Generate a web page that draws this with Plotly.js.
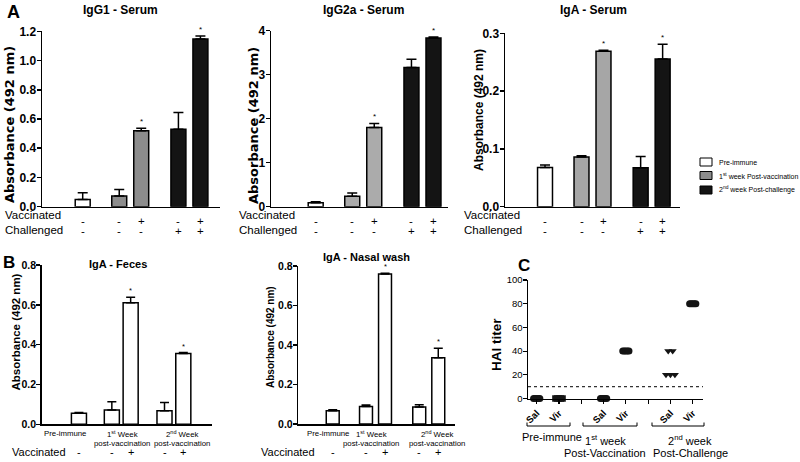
<!DOCTYPE html>
<html><head><meta charset="utf-8">
<script src="https://cdn.plot.ly/plotly-3.0.1.min.js"></script>
<style>html,body{margin:0;padding:0;background:#fff}#chart{width:800px;height:462px}</style>
</head><body><div id="chart"></div><script>
// ---------------- data ----------------
const groupsA = ['Pre-immune', '1st week Post-vaccination', '1st week Post-vaccination', '2nd week Post-challenge', '2nd week Post-challenge'];
const vaccinatedA = ['-', '-', '+', '-', '+'];
const challengedA = ['-', '-', '-', '+', '+'];
const igg1Mean = [0.050, 0.073, 0.519, 0.530, 1.147];
const igg1Sem = [0.046, 0.044, 0.018, 0.115, 0.021];
const igg2aMean = [0.09, 0.24, 1.80, 3.16, 3.83];
const igg2aSem = [0.02, 0.07, 0.09, 0.19, 0.02];
const igaSerumMean = [0.068, 0.086, 0.269, 0.0675, 0.2555];
const igaSerumSem = [0.004, 0.002, 0.0015, 0.0195, 0.0255];
const starA = [false, false, true, false, true];

const vaccinatedB = ['-', '-', '+', '-', '+'];
const fecesMean = [0.055, 0.072, 0.610, 0.068, 0.355];
const fecesSem = [0.004, 0.041, 0.028, 0.042, 0.005];
const nasalMean = [0.0675, 0.088, 0.759, 0.086, 0.336];
const nasalSem = [0.005, 0.008, 0.004, 0.012, 0.047];
const starB = [false, false, true, false, true];
const groupLine1B = ['Pre-immune', '1<sup>st</sup> Week', '2<sup>nd</sup> Week'];
const groupLine2B = ['', 'post-vaccination', 'post-vaccination'];

const haiTickVals = [0, 1, 2, 3, 4, 5, 6, 7];
const haiTickText = ['Sal', 'Vir', ' ', 'Sal', 'Vir', ' ', 'Sal', 'Vir'];
const haiSalPre = [0, 0, 0, 0, 0];
const haiVirPre = [0, 0, 0, 0, 0];
const haiSalVac = [0, 0, 0, 0, 0];
const haiVirVac = [40, 40, 40, 40, 40];
const haiSalChal = [40, 40, 20, 20, 20];
const haiVirChal = [80, 80, 80, 80, 80];
const haiThreshold = 10;
const haiGroupLine1 = ['Pre-immune', '1<sup>st</sup> week', '2<sup>nd</sup> week'];
const haiGroupLine2 = ['', 'Post-Vaccination', 'Post-Challenge'];

const legendLabels = ['Pre-immune', '1<sup>st</sup> week Post-vaccination', '2<sup>nd</sup> week Post-challenge'];

// ---------------- layout helpers ----------------
const W = 800, H = 462;
const px = x => x / W;
const py = y => 1 - y / H;
const FONT = 'Liberation Sans, Arial, Helvetica, sans-serif';
const BLACK = '#141414';

const slotsA = [0, 1.66, 2.66, 4.35, 5.35];
const slotsB = [0, 1.75, 2.75, 4.55, 5.55];
const slotsC = [0, 1, 3, 4, 6, 7];

const traces = [];
const annotations = [];
const shapes = [];
const layout = {
  width: W, height: H, margin: {l: 0, r: 0, t: 0, b: 0},
  paper_bgcolor: '#fff', plot_bgcolor: 'rgba(0,0,0,0)', showlegend: false,
  font: {family: FONT, color: '#000'}
};

function xAxis(dom, range) {
  return {domain: [px(dom[0]), px(dom[1])], range: range, showline: true, linecolor: '#000', linewidth: 1.5,
    showticklabels: false, ticks: '', showgrid: false, zeroline: false, fixedrange: true};
}
function yAxis(dom, range, tickvals, fmt, fsize, bold) {
  return {domain: [py(dom[0]), py(dom[1])], range: range, tickvals: tickvals, tickformat: fmt,
    ticks: 'outside', ticklen: 4, tickwidth: 1.5, tickcolor: '#000', showline: true, linecolor: '#000', linewidth: 1.5,
    showgrid: false, zeroline: false, fixedrange: true, ticklabelstandoff: -2,
    tickfont: {family: FONT, size: fsize, color: '#000', weight: bold ? 'bold' : 'normal'}};
}
function text(x, y, t, opts) {
  const o = Object.assign({size: 12, weight: 'normal', family: FONT, xanchor: 'center', yanchor: 'middle', angle: 0, xref: 'paper', yref: 'paper'}, opts || {});
  annotations.push({x: x, y: y, xref: o.xref, yref: o.yref, text: t, showarrow: false, xanchor: o.xanchor, yanchor: o.yanchor,
    textangle: o.angle, font: {family: o.family, size: o.size, weight: o.weight, color: '#000'}});
}

// ---------------- panel A ----------------
const chartsA = [
  {mean: igg1Mean, sem: igg1Sem, n: '', gray: '#8c8c8c', dom: [42, 220], range: [-1.85, 6.24], ydom: [206.7, 31.3],
   yr: [0, 1.2], tv: [0, 0.2, 0.4, 0.6, 0.8, 1.0, 1.2], fmt: '.1f', title: 'IgG1 - Serum', tx: 120,
   yt: {x: 9, y: 125, size: 13, family: 'DejaVu Sans, Liberation Sans, sans-serif'}, lab: 3},
  {mean: igg2aMean, sem: igg2aSem, n: '2', gray: '#ababab', dom: [271, 448], range: [-2.03, 6.01], ydom: [206.7, 30.5],
   yr: [0, 4], tv: [0, 1, 2, 3, 4], fmt: 'd', title: 'IgG2a - Serum', tx: 363,
   yt: {x: 253, y: 125, size: 13, family: 'DejaVu Sans, Liberation Sans, sans-serif'}, lab: 237},
  {mean: igaSerumMean, sem: igaSerumSem, n: '3', gray: '#a6a6a6', dom: [505, 680], range: [-1.82, 6.14], ydom: [206.7, 33.3],
   yr: [0, 0.3], tv: [0, 0.1, 0.2, 0.3], fmt: '.1f', title: 'IgA - Serum', tx: 593,
   yt: {x: 479, y: 110, size: 12, family: FONT}, lab: 462}
];

chartsA.forEach(c => {
  const xa = 'x' + c.n, ya = 'y' + c.n;
  traces.push({type: 'bar', x: slotsA, y: c.mean, width: 0.68, xaxis: xa, yaxis: ya, name: '',
    text: groupsA, textposition: 'none', hoverinfo: 'skip',
    marker: {color: ['#ffffff', c.gray, c.gray, BLACK, BLACK], line: {color: '#000', width: 1.5}},
    error_y: {type: 'data', symmetric: false, array: c.sem, arrayminus: c.sem.map(() => 0), color: '#000', thickness: 1.5, width: 5}});
  layout['xaxis' + c.n] = Object.assign(xAxis(c.dom, c.range), {anchor: ya});
  layout['yaxis' + c.n] = Object.assign(yAxis(c.ydom, c.yr, c.tv, c.fmt, 12, true), {anchor: xa});
  text(px(c.tx), py(10), c.title, {size: 12, weight: 'bold'});
  text(px(c.yt.x), py(c.yt.y), 'Absorbance (492 nm)', {size: c.yt.size, weight: 'bold', family: c.yt.family, angle: -90});
  text(px(c.lab), py(214.5), 'Vaccinated', {xanchor: 'left', size: 11.5});
  text(px(c.lab), py(230), 'Challenged', {xanchor: 'left', size: 11.5});
  slotsA.forEach((s, i) => {
    text(s, py(220.5), vaccinatedA[i], {xref: xa, size: 11.5});
    text(s, py(231), challengedA[i], {xref: xa, size: 11.5});
    if (starA[i]) text(s, c.mean[i] + c.sem[i], '*', {xref: xa, yref: ya, yanchor: 'bottom', size: 8});
  });
});

// legend (panel A)
const legendColors = ['#ffffff', '#8c8c8c', BLACK];
const legendY = [162, 175.5, 190];
legendLabels.forEach((l, i) => {
  shapes.push({type: 'rect', xref: 'paper', yref: 'paper', x0: px(700), x1: px(712), y0: py(legendY[i] + 4), y1: py(legendY[i] - 4),
    fillcolor: legendColors[i], line: {color: '#000', width: 1}});
  text(px(717), py(legendY[i]), l, {xanchor: 'left', size: 7});
});

// ---------------- panel B ----------------
const chartsB = [
  {mean: fecesMean, sem: fecesSem, n: '4', dom: [41.7, 211.7], range: [-1.98, 7.06], ydom: [424.3, 265], bw: 0.8,
   title: 'IgA - Feces', tx: 118, ty: 264, yt: {x: 15.5, y: 332, size: 11.5}, lab: 10,
   gx: [65, 122, 182]},
  {mean: nasalMean, sem: nasalSem, n: '5', dom: [298.3, 455], range: [-1.81, 6.43], ydom: [424, 266], bw: 0.68,
   title: 'IgA - Nasal wash', tx: 366, ty: 257, yt: {x: 270, y: 337, size: 10}, lab: 259,
   gx: [328, 371, 437]}
];
chartsB.forEach(c => {
  const xa = 'x' + c.n, ya = 'y' + c.n;
  traces.push({type: 'bar', x: slotsB, y: c.mean, width: c.bw, xaxis: xa, yaxis: ya, hoverinfo: 'skip',
    marker: {color: '#ffffff', line: {color: '#000', width: 1.5}},
    error_y: {type: 'data', symmetric: false, array: c.sem, arrayminus: c.sem.map(() => 0), color: '#000', thickness: 1.5, width: 4.5}});
  layout['xaxis' + c.n] = Object.assign(xAxis(c.dom, c.range), {anchor: ya});
  layout['yaxis' + c.n] = Object.assign(yAxis(c.ydom, [0, 0.8], [0, 0.2, 0.4, 0.6, 0.8], '.1f', 10.5, true), {anchor: xa});
  text(px(c.tx), py(c.ty), c.title, {size: 11, weight: 'bold'});
  text(px(c.yt.x), py(c.yt.y), 'Absorbance (492 nm)', {size: c.yt.size, weight: 'bold', angle: -90});
  text(px(c.lab), py(452), 'Vaccinated', {xanchor: 'left', size: 11});
  c.gx.forEach((g, i) => {
    text(px(g), py(433.5), groupLine1B[i], {size: 7.8});
    if (groupLine2B[i]) text(px(g), py(443), groupLine2B[i], {size: 7.8});
  });
  slotsB.forEach((s, i) => {
    text(s, py(452), vaccinatedB[i], {xref: xa, size: 11});
    if (starB[i]) text(s, c.mean[i] + c.sem[i], '*', {xref: xa, yref: ya, yanchor: 'bottom', size: 7.5});
  });
});

// ---------------- panel C ----------------
function spread(values, step) {
  const counts = {}, seen = {};
  values.forEach(v => counts[v] = (counts[v] || 0) + 1);
  return values.map(v => {
    seen[v] = seen[v] === undefined ? 0 : seen[v] + 1;
    return (seen[v] - (counts[v] - 1) / 2) * step;
  });
}
const haiSeries = [haiSalPre, haiVirPre, haiSalVac, haiVirVac, haiSalChal, haiVirChal];
const haiSymbols = ['circle', 'square', 'circle', 'circle', 'triangle-down', 'circle'];
const haiSizes = [7, 6.5, 7, 7, 7, 7];
const haiSteps = [0.07, 0.08, 0.07, 0.07, 0.2, 0.07];
haiSeries.forEach((vals, g) => {
  const off = spread(vals, haiSteps[g]);
  traces.push({type: 'scatter', mode: 'markers', xaxis: 'x6', yaxis: 'y6', hoverinfo: 'skip', cliponaxis: false,
    x: vals.map((v, i) => slotsC[g] + off[i]), y: vals,
    marker: {symbol: haiSymbols[g], size: haiSizes[g], color: BLACK, line: {width: 0}}});
});
layout.xaxis6 = {domain: [px(528), px(703)], range: [-0.39, 7.46], anchor: 'y6', showline: true, linecolor: '#000', linewidth: 1.5,
  tickvals: haiTickVals, ticktext: haiTickText, tickangle: -45, ticks: 'outside', ticklen: 4, tickwidth: 1.2, tickcolor: '#000',
  tickfont: {family: FONT, size: 9.5, weight: 'bold', color: '#000'}, showgrid: false, zeroline: false, fixedrange: true};
layout.yaxis6 = Object.assign(yAxis([398.5, 280], [0, 100], [0, 20, 40, 60, 80, 100], 'd', 9.5, false), {anchor: 'x6', tickwidth: 1.2});
shapes.push({type: 'line', xref: 'x6', yref: 'y6', x0: -0.39, x1: 7.5, y0: haiThreshold, y1: haiThreshold,
  line: {color: '#333', width: 1.2, dash: 'dot'}});
text(px(496), py(345), 'HAI titer', {size: 13.5, weight: 'bold', angle: -90});
// group brackets
const bracketX = [[527, 570], [583, 637], [652, 704]];
bracketX.forEach(b => {
  shapes.push({type: 'path', xref: 'paper', yref: 'paper',
    path: `M ${px(b[0])},${py(422.5)} L ${px(b[0])},${py(426)} L ${px(b[1])},${py(426)} L ${px(b[1])},${py(422.5)}`,
    line: {color: '#000', width: 1}});
});
const haiGX = [552, 605, 690];
haiGX.forEach((g, i) => {
  text(px(g), py(i === 0 ? 437 : 439.5), haiGroupLine1[i], {size: 11});
  if (haiGroupLine2[i]) text(px(g), py(453), haiGroupLine2[i], {size: 11});
});

// panel letters
text(px(13), py(12), 'A', {size: 18, weight: 'bold'});
text(px(9), py(262), 'B', {size: 17, weight: 'bold'});
text(px(524), py(265), 'C', {size: 17, weight: 'bold'});

layout.annotations = annotations;
layout.shapes = shapes;
Plotly.newPlot('chart', traces, layout, {staticPlot: true, displayModeBar: false});
</script></body></html>
